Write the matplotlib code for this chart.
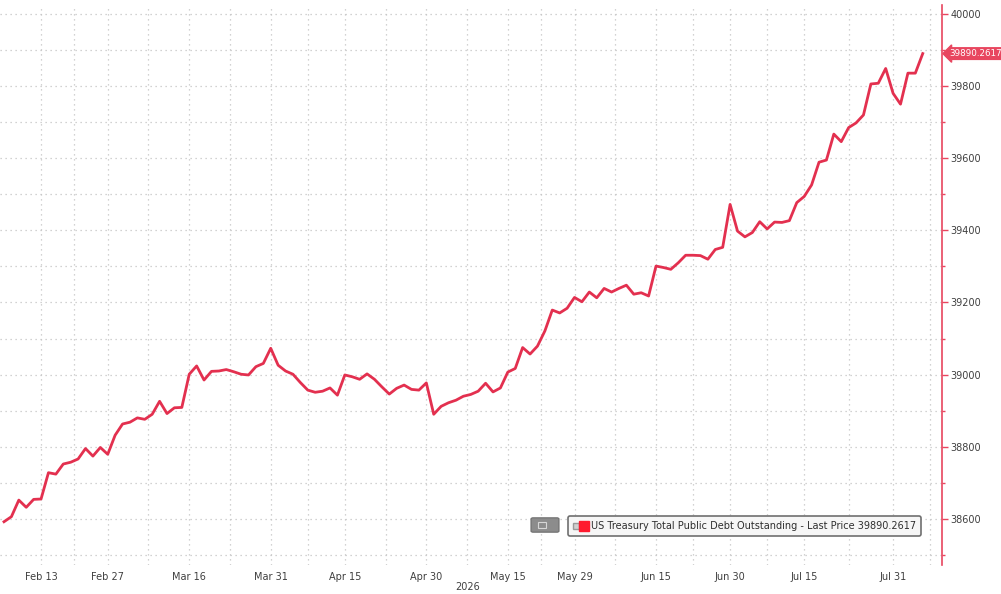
import numpy as np
import pandas as pd
import matplotlib
matplotlib.use("Agg")
import matplotlib.pyplot as plt
from matplotlib.lines import Line2D
from matplotlib.legend_handler import HandlerTuple
from matplotlib.patches import FancyBboxPatch
from matplotlib.transforms import blended_transform_factory

# data (daily, business days only) =========================================
start_date = "2026-02-06"
end_date = "2026-08-06"
holidays = ["2026-02-16", "2026-04-03", "2026-05-25", "2026-06-19", "2026-07-03"]

feb = [38592, 38606, 38652, 38632, 38654, 38655, 38728, 38724, 38752, 38757,
       38766, 38795, 38774, 38798, 38779]
mar = [38832, 38863, 38868, 38880, 38876, 38890, 38926, 38892, 38908, 38909,
       39001, 39024, 38985, 39009, 39010, 39014, 39008, 39001, 38999, 39022,
       39031, 39073]
apr = [39026, 39010, 39001, 38978, 38957, 38951, 38954, 38963, 38943, 38999,
       38994, 38987, 39002, 38987, 38966, 38946, 38962, 38971, 38959, 38957,
       38977]
may = [38890, 38912, 38922, 38929, 38940, 38945, 38954, 38976, 38952, 38963,
       39007, 39017, 39075, 39057, 39079, 39121, 39179, 39171, 39184, 39214]
jun = [39202, 39229, 39213, 39239, 39229, 39239, 39248, 39223, 39227, 39218,
       39301, 39297, 39292, 39310, 39331, 39331, 39330, 39320, 39347, 39353,
       39472]
jul = [39398, 39382, 39394, 39424, 39404, 39423, 39422, 39427, 39477, 39494,
       39526, 39589, 39595, 39667, 39646, 39685, 39698, 39720, 39806, 39808,
       39849, 39780]
aug = [39750, 39836, 39836, 39890.2617]

tick_dates = ["2026-02-13", "2026-02-27", "2026-03-16", "2026-03-31",
              "2026-04-15", "2026-04-30", "2026-05-15", "2026-05-29",
              "2026-06-15", "2026-06-30", "2026-07-15", "2026-07-31"]
series_name = "US Treasury Total Public Debt Outstanding - Last Price"

values = np.array(feb + mar + apr + may + jun + jul + aug, dtype=float)
dates = pd.bdate_range(start_date, end_date, freq="C", holidays=holidays)
last_value = values[-1]

# style ====================================================================
RED = "#e3304f"
AXRED = "#e8465f"
GRID = "#c4c4c4"
TXT = "#3f3f3f"

fig = plt.figure(figsize=(10.01, 5.94), dpi=100)
W, H = 1001, 594
ax = fig.add_axes([0, 1 - 565 / H, 942 / W, 560 / H])

x = np.arange(len(values))
ax.plot(x, values, color=RED, lw=2.0, solid_joinstyle="round", zorder=3)

ax.set_xlim(-0.54, 126.6)
ax.set_ylim(38472, 40025)

# x axis: index based, labelled at dates
pos = {d.strftime("%Y-%m-%d"): i for i, d in enumerate(dates)}
major = [pos[d] for d in tick_dates]
minor = [(a + b) / 2 for a, b in zip(major[:-1], major[1:])] + [major[-1] + 5]
ax.set_xticks(major)
ax.set_xticklabels([pd.Timestamp(d).strftime("%b %-d") for d in tick_dates])
ax.set_xticks(minor, minor=True)
ax.tick_params(axis="x", which="both", length=0, pad=5, labelsize=7, labelcolor=TXT)

# y axis on right, red spine
ax.yaxis.tick_right()
ax.set_yticks(np.arange(38600, 40001, 200))
ax.set_yticks(np.arange(38500, 40001, 100), minor=True)
ax.tick_params(axis="y", which="major", direction="out", length=4, width=1,
               color=AXRED, labelsize=7, labelcolor=TXT, pad=2)
ax.tick_params(axis="y", which="minor", direction="out", length=2.5, width=1,
               color=AXRED)

for side in ["top", "left", "bottom"]:
    ax.spines[side].set_visible(False)
ax.spines["right"].set_color(AXRED)
ax.spines["right"].set_linewidth(1.2)

ax.grid(True, which="both", color=GRID, ls=(0, (1, 3)), lw=0.9)
ax.set_axisbelow(True)

# year label under the dates
trans = blended_transform_factory(ax.transData, fig.transFigure)
ax.text(62.6, 1 - 587 / H, "2026", transform=trans, ha="center", va="center",
        fontsize=7, color=TXT)

# last price tag on axis
tagtrans = blended_transform_factory(ax.transAxes, ax.transData)
ax.text(1.0075, last_value, f"{last_value:.4f}", transform=tagtrans,
        ha="left", va="center", fontsize=6.3, color="white", clip_on=False,
        bbox=dict(boxstyle="larrow,pad=0.15", fc=AXRED, ec=AXRED))

# legend
h1 = Line2D([], [], marker="s", ls="none", markersize=4,
            markerfacecolor="#d0d0d0", markeredgecolor="#9a9a9a")
h2 = Line2D([], [], marker="s", ls="none", markersize=7,
            markerfacecolor="#ff1a2e", markeredgecolor="#ff1a2e")
leg = ax.legend(handles=[(h1, h2)], labels=[f"{series_name} {last_value:.4f}"],
                handler_map={tuple: HandlerTuple(ndivide=None, pad=0.2)},
                loc="center", bbox_to_anchor=(744.5 / W, 1 - 526 / H),
                bbox_transform=fig.transFigure, fontsize=7, handlelength=1.4,
                handletextpad=0.4, borderpad=0.5, fancybox=True, framealpha=1,
                edgecolor="#6f6f6f", facecolor="#f6f6f6")
leg.get_frame().set_linewidth(1.2)
for t in leg.get_texts():
    t.set_color("#2e2e2e")

# little grey button left of the legend
btn = FancyBboxPatch((533 / W, 1 - 531 / H), 24 / W, 12 / H,
                     boxstyle="round,pad=0.002", transform=fig.transFigure,
                     fc="#8c8c8c", ec="#6e6e6e", lw=0.8)
fig.patches.append(btn)
inner = FancyBboxPatch((538 / W, 1 - 528 / H), 8 / W, 6 / H,
                       boxstyle="square,pad=0", transform=fig.transFigure,
                       fc="none", ec="#d6d6d6", lw=0.8)
fig.patches.append(inner)

fig.savefig("out.png", dpi=100)
